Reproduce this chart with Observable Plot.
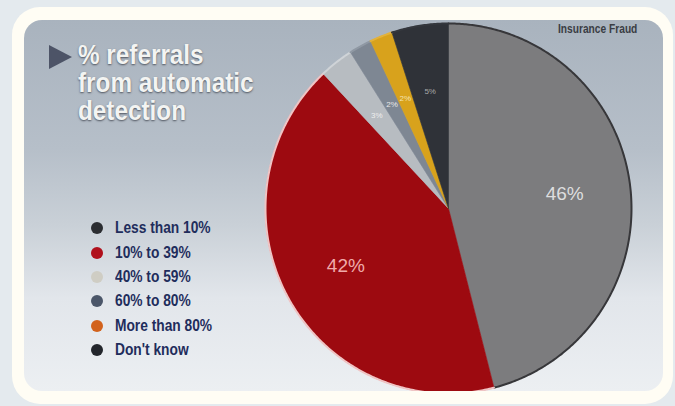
<!DOCTYPE html>
<html><head><meta charset="utf-8">
<script src="https://cdn.jsdelivr.net/npm/d3@7"></script>
<script src="https://cdn.jsdelivr.net/npm/@observablehq/plot@0.6"></script>
<style>
html,body{margin:0;padding:0;}
body{width:675px;height:406px;overflow:hidden;background:#e4eaee;position:relative;font-family:"Liberation Sans",Arial,sans-serif;}
#frame{position:absolute;left:12px;top:7px;width:661px;height:397px;border-radius:28px;background:#fffdf4;}
#slide{position:absolute;left:24px;top:20px;width:639px;height:371px;border-radius:18px;overflow:hidden;
  background:linear-gradient(180deg,#a9b3be 0%,#b6bfc9 35%,#c9d0d7 55%,#e2e6eb 75%,#eceff2 100%);}
#chart{position:absolute;left:0;top:0;}
#tri{position:absolute;left:25px;top:25px;width:0;height:0;border-top:12px solid transparent;border-bottom:12px solid transparent;border-left:23px solid #4d5467;}
#title{position:absolute;left:54px;top:21px;font-weight:bold;font-size:27px;line-height:28px;color:#f3f4f2;text-shadow:0 1px 2px rgba(45,50,60,.75);white-space:nowrap;transform:scaleX(0.9);transform-origin:0 0;}
#legend{position:absolute;left:67px;top:196px;}
.row{display:flex;align-items:center;height:24.4px;}
.dot{width:12px;height:12px;border-radius:50%;margin-right:12px;}
.lab{font-weight:bold;font-size:16px;color:#1f2d5c;white-space:nowrap;transform:scaleX(0.86);transform-origin:0 50%;}
#source{position:absolute;left:534px;top:2px;font-weight:bold;font-size:12px;color:#3a3d44;white-space:nowrap;transform:scaleX(0.85);transform-origin:0 0;}
</style></head>
<body>
<div id="frame"></div>
<div id="slide">
  <div id="chart"></div>
  <div id="tri"></div>
  <div id="title"></div>
  <div id="legend"></div>
  <div id="source"></div>
</div>
<script>
const categories = ["Less than 10%","10% to 39%","40% to 59%","60% to 80%","More than 80%","Don't know"];
const values = [46, 42, 3, 2, 2, 5];
const sliceColors = ["#7c7c7e","#9d0a10","#b7bcc1","#7e8793","#d8a21c","#2f3238"];
const rimColors = ["#37373a","#f0c4c4","#cfd3d7","#8f98a3","#e3b23a","#34373d"];
const labelColors = ["#dedede","#f0aaaa","#eeeeee","#e8e8e8","#f4e2b0","#a9a9a9"];
const legendColors = ["#2b2d31","#b0101c","#cfcdc4","#4b5669","#d2621c","#23262c"];
const titleLines = ["% referrals","from automatic","detection"];
const sourceText = "Insurance Fraud";

const arcs = d3.pie().sort(null).value(d => d)(values);
const step = Math.PI / 360;
const slicePts = [], rimPts = [], labels = [];
arcs.forEach((a, i) => {
  const k = categories[i];
  slicePts.push({k, x: 0, y: 0, c: sliceColors[i]});
  const n = Math.max(2, Math.ceil((a.endAngle - a.startAngle) / step));
  for (let j = 0; j <= n; j++) {
    const t = a.startAngle + (a.endAngle - a.startAngle) * j / n;
    const p = {k, x: Math.sin(t), y: Math.cos(t), c: sliceColors[i], r: rimColors[i]};
    slicePts.push(p); rimPts.push(p);
  }
  slicePts.push({k, x: 0, y: 0, c: sliceColors[i]});
  const m = (a.startAngle + a.endAngle) / 2;
  labels.push({x: 0.64 * Math.sin(m), y: 0.64 * Math.cos(m), t: values[i] + "%", c: labelColors[i], big: values[i] >= 10});
});

const chart = Plot.plot({
  width: 639, height: 371, margin: 0,
  x: {domain: [-1, 1], range: [241, 607], axis: null},
  y: {domain: [-1, 1], range: [373, 3], axis: null},
  color: {type: "identity"},
  style: {background: "transparent", overflow: "visible"},
  marks: [
    Plot.line(slicePts, {x: "x", y: "y", z: "k", fill: "c", stroke: "c", strokeWidth: 0.6, curve: "linear"}),
    Plot.line(rimPts, {x: "x", y: "y", z: "k", stroke: "r", strokeWidth: 2, curve: "linear"}),
    Plot.text(labels.filter(d => d.big), {x: "x", y: "y", text: "t", fill: "c", fontSize: 19, fontFamily: "Liberation Sans, Arial, sans-serif"}),
    Plot.text(labels.filter(d => !d.big), {x: "x", y: "y", text: "t", fill: "c", fontSize: 8, fontFamily: "Liberation Sans, Arial, sans-serif"})
  ]
});
document.getElementById("chart").appendChild(chart);

document.getElementById("title").innerHTML = titleLines.map(s => `<div>${s}</div>`).join("");
document.getElementById("legend").innerHTML = categories.map((c, i) =>
  `<div class="row"><div class="dot" style="background:${legendColors[i]}"></div><div class="lab">${c}</div></div>`).join("");
document.getElementById("source").textContent = sourceText;
</script>
</body></html>
